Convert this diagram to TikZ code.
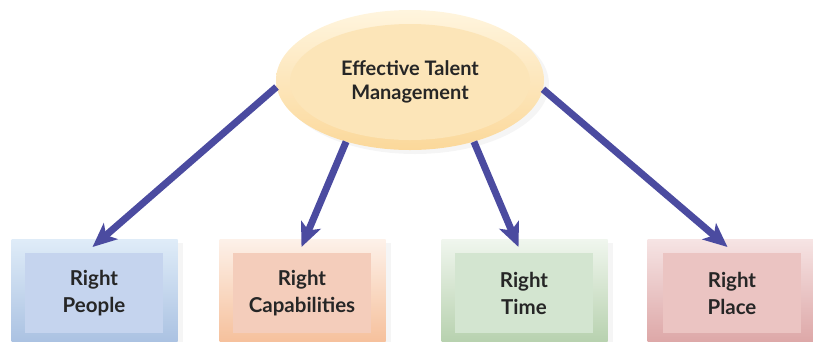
\documentclass[tikz,border=0pt]{standalone}
\usepackage{fontspec}
\setmainfont{Lato}
\usetikzlibrary{arrows.meta,shadows,shapes.geometric}

\definecolor{arrowblue}{HTML}{4B4BA0}
\definecolor{txtgray}{HTML}{262626}
\definecolor{elltop}{HTML}{FFF5DE}
\definecolor{ellbot}{HTML}{FBD89A}
\definecolor{ellin}{HTML}{FCE5B8}
\definecolor{bluetop}{HTML}{DFECF8}
\definecolor{bluebot}{HTML}{A6BEE0}
\definecolor{bluein}{HTML}{C5D4EE}
\definecolor{orangetop}{HTML}{FDF1E9}
\definecolor{orangebot}{HTML}{F5BC95}
\definecolor{orangein}{HTML}{F4CDBB}
\definecolor{greentop}{HTML}{F0F6EE}
\definecolor{greenbot}{HTML}{B2CEA9}
\definecolor{greenin}{HTML}{D3E5D0}
\definecolor{redtop}{HTML}{F6E4E4}
\definecolor{redbot}{HTML}{DBA2A2}
\definecolor{redin}{HTML}{EBC4C2}

\tikzset{
    outerbox/.style={rectangle, anchor=north, minimum width=166pt, minimum height=112pt,
        drop shadow={opacity=0.08, shadow xshift=5pt, shadow yshift=-4pt}},
    innerbox/.style={rectangle, minimum width=138pt, minimum height=80pt,
        align=center, text=txtgray, font=\fontsize{20.5}{27}\selectfont\bfseries},
    bigarrow/.style={draw=arrowblue, line width=7pt,
        -{Stealth[length=24pt, width=21pt, inset=6pt]}},
}

\begin{document}
\begin{tikzpicture}[x=1pt, y=-1pt]
    \useasboundingbox (0,0) rectangle (813,341);

    % Four boxes
    \foreach \i/\cx/\ix/\ctop/\cbot/\cin/\txt in {
        1/94.5/94/bluetop/bluebot/bluein/{Right\\People},
        2/302.5/302/orangetop/orangebot/orangein/{Right\\Capabilities},
        3/524.5/524/greentop/greenbot/greenin/{Right\\Time},
        4/730.5/732/redtop/redbot/redin/{Right\\Place}} {
        \node[outerbox, top color=\ctop, bottom color=\cbot] (box\i) at (\cx,239) {};
        \node[innerbox, fill=\cin] (in\i) at (\ix,293) {\txt};
    }

    % Central ellipse
    \node[ellipse, minimum width=268pt, minimum height=140pt,
        top color=elltop, bottom color=ellbot,
        drop shadow={opacity=0.08, shadow xshift=5pt, shadow yshift=-4pt}] (etm) at (410,80) {};
    \node[ellipse, minimum width=240pt, minimum height=116pt, fill=ellin,
        align=center, text=txtgray, font=\fontsize{20}{24}\selectfont\bfseries]
        (etmin) at (410,82) {Effective Talent\\Management};

    % Arrows
    \foreach \i/\a/\dx in {1/183/-2, 2/224/-1, 3/316/-6, 4/356/-3} {
        \draw[bigarrow] (etm.\a) -- ([xshift=\dx pt, yshift=-8pt]box\i.north);
    }
\end{tikzpicture}
\end{document}
